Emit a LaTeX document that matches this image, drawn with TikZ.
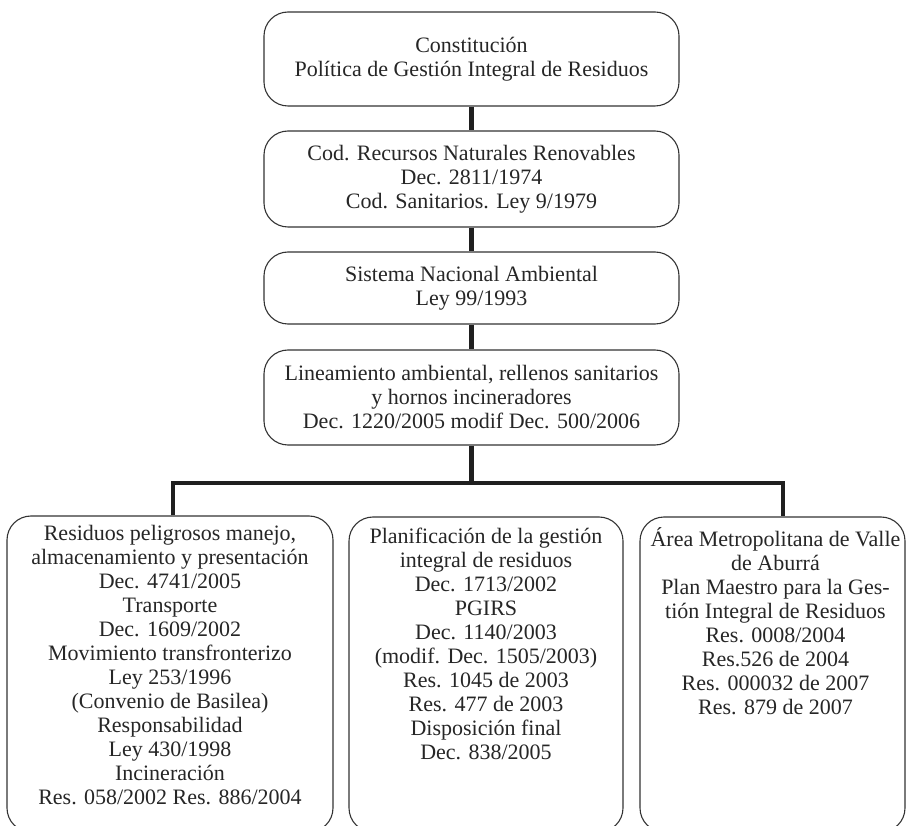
\documentclass[tikz,border=0pt]{standalone}
\usepackage{fontspec}
\setmainfont{Liberation Serif}
\begin{document}
\begin{tikzpicture}[x=1pt,y=-1pt,
  boxline/.style={draw=black!80, line width=1.1pt, rounded corners=24pt},
  topbox/.style={boxline, minimum width=415pt, inner sep=0pt, align=center,
     font=\fontsize{22}{24}\selectfont, text=black!85},
  botbox/.style={boxline, inner sep=0pt},
  bottext/.style={anchor=north, align=center, inner sep=0pt,
     font=\fontsize{22}{24}\selectfont, text=black!85},
  conn/.style={draw=black!88, line width=4.5pt}]
\clip (0,0) rectangle (906,826);
\fill[white] (0,0) rectangle (906,826);
% top chain
\node[topbox, minimum height=94pt] (b1) at (471.5,59) {Constitución\\Política de Gestión Integral de Residuos};
\node[topbox, minimum height=96pt] (b2) at (471.5,179) {Cod. Recursos Naturales Renovables\\Dec. 2811/1974\\Cod. Sanitarios. Ley 9/1979};
\node[topbox, minimum height=72pt] (b3) at (471.5,288) {Sistema Nacional Ambiental\\Ley 99/1993};
\node[topbox, minimum height=95pt] (b4) at (471.5,397.5) {Lineamiento ambiental, rellenos sanitarios\\y hornos incineradores\\Dec. 1220/2005 modif Dec. 500/2006};
% bottom boxes
\node[botbox, minimum width=326pt, minimum height=316pt] (L) at (170,674) {};
\node[botbox, minimum width=274pt, minimum height=315pt] (M) at (486,674.5) {};
\node[botbox, minimum width=265pt, minimum height=315pt] (R) at (772.5,674.5) {};
\node[bottext] (Lt) at ([yshift=-10pt]L.north) {Residuos peligrosos manejo,\\almacenamiento y presentación\\Dec. 4741/2005\\Transporte\\Dec. 1609/2002\\Movimiento transfronterizo\\Ley 253/1996\\(Convenio de Basilea)\\Responsabilidad\\Ley 430/1998\\Incineración\\Res. 058/2002 Res. 886/2004};
\node[bottext] (Mt) at ([yshift=-11pt]M.north) {Planificación de la gestión\\integral de residuos\\Dec. 1713/2002\\PGIRS\\Dec. 1140/2003\\(modif. Dec. 1505/2003)\\Res. 1045 de 2003\\Res. 477 de 2003\\Disposición final\\Dec. 838/2005};
\node[bottext] (Rt) at ([yshift=-11pt,xshift=3pt]R.north) {Área Metropolitana de Valle\\de Aburrá\\Plan Maestro para la Ges-\\tión Integral de Residuos\\Res. 0008/2004\\Res.526 de 2004\\Res. 000032 de 2007\\Res. 879 de 2007};
% connectors
\coordinate (j) at (471.5,483);
\coordinate (hl) at (173,483);
\coordinate (hr) at (783,483);
\draw[conn] (b1.south) -- (b2.north);
\draw[conn] (b2.south) -- (b3.north);
\draw[conn] (b3.south) -- (b4.north);
\draw[conn] (b4.south) -- (j);
\draw[conn, line join=miter] (hl |- L.north) -- (hl) -- (hr) -- (hr |- R.north);
\end{tikzpicture}
\end{document}
